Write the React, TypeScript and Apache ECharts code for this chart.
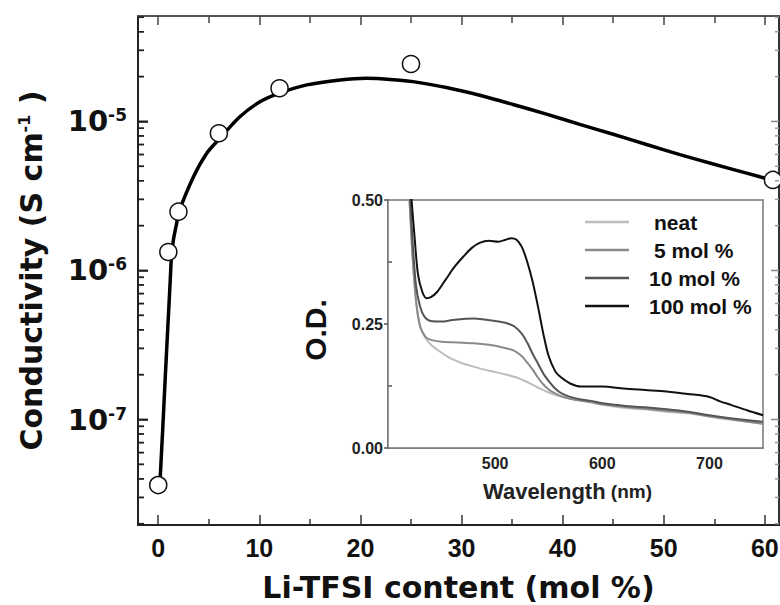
import React, { useEffect, useRef } from "react";
import * as echarts from "echarts";

// Main panel: measured conductivity points
const contentX = [0, 1, 2, 6, 12, 25, 60.8];
const conductivity = [3.63e-8, 1.33e-6, 2.48e-6, 8.33e-6, 1.67e-5, 2.43e-5, 4.05e-6];

// Main panel: fitted guide curve
const fitX = [0.2, 0.45, 0.69, 0.94, 1.19, 1.3, 1.5, 1.85, 2.0, 3.5, 4.8, 6.1, 8.1, 10.1, 12, 14.7, 18, 20.6, 23.9, 25.2, 28.5, 31.8, 35.1, 38.4, 41.7, 45, 48.3, 51.6, 54.9, 58.2, 60.8];
const fitY = [4.11e-8, 8.77e-8, 1.88e-7, 4.05e-7, 8.63e-7, 1.21e-6, 1.6e-6, 2.12e-6, 2.43e-6, 4.27e-6, 6.12e-6, 7.71e-6, 1.08e-5, 1.36e-5, 1.55e-5, 1.76e-5, 1.9e-5, 1.95e-5, 1.89e-5, 1.85e-5, 1.69e-5, 1.5e-5, 1.3e-5, 1.12e-5, 9.55e-6, 8.2e-6, 7.0e-6, 5.99e-6, 5.18e-6, 4.5e-6, 4.02e-6];

// Tick labels
const xMin = -2;
const xMax = 61.4;
const xMajorTicks = [0, 10, 20, 30, 40, 50, 60];
const xMinorTicks = [5, 15, 25, 35, 45, 55];
const yMajorTicks = [1e-7, 1e-6, 1e-5];
const yMin = 1.96e-8;
const yMax = 5.1e-5;
const yMinorTicks: number[] = [];
[-8, -7, -6, -5].forEach((e) => {
  for (let k = 2; k <= 9; k++) {
    const v = k * Math.pow(10, e);
    if (v >= yMin && v <= yMax) yMinorTicks.push(v);
  }
});

// Inset: absorption spectra (wavelength nm, O.D.)
const seriesNames = ["neat", "5 mol %", "10 mol %", "100 mol %"];
const neatWl = [418, 422, 426, 430, 435, 440, 448, 458, 468, 480, 490, 500, 510, 520, 530, 540, 550, 560, 570, 580, 590, 600, 620, 640, 660, 680, 700, 720, 750];
const neatOd = [0.6, 0.42, 0.3, 0.245, 0.222, 0.208, 0.195, 0.181, 0.172, 0.164, 0.158, 0.153, 0.148, 0.142, 0.133, 0.122, 0.112, 0.105, 0.1, 0.097, 0.092, 0.087, 0.081, 0.078, 0.073, 0.07, 0.063, 0.057, 0.049];
const mol5Wl = [418, 422, 426, 430, 435, 440, 450, 460, 470, 480, 490, 500, 510, 518, 525, 530, 535, 540, 545, 550, 556, 562, 570, 580, 590, 600, 620, 640, 660, 680, 700, 720, 750];
const mol5Od = [0.6, 0.42, 0.3, 0.245, 0.224, 0.218, 0.214, 0.213, 0.212, 0.211, 0.209, 0.206, 0.201, 0.196, 0.185, 0.172, 0.158, 0.142, 0.128, 0.118, 0.11, 0.104, 0.099, 0.095, 0.092, 0.088, 0.083, 0.079, 0.075, 0.071, 0.064, 0.058, 0.049];
const mol10Wl = [418, 422, 426, 430, 434, 440, 450, 460, 470, 480, 490, 500, 510, 518, 525, 530, 535, 540, 545, 550, 556, 562, 570, 580, 590, 600, 620, 640, 660, 680, 700, 720, 750];
const mol10Od = [0.6, 0.45, 0.33, 0.285, 0.265, 0.256, 0.255, 0.258, 0.26, 0.261, 0.259, 0.256, 0.252, 0.245, 0.23, 0.212, 0.19, 0.17, 0.15, 0.135, 0.12, 0.11, 0.103, 0.098, 0.095, 0.09, 0.085, 0.082, 0.078, 0.073, 0.066, 0.06, 0.053];
const mol100Wl = [418, 422, 425, 428, 432, 436, 440, 446, 454, 462, 470, 478, 486, 494, 503, 510, 515, 520, 525, 530, 535, 540, 545, 550, 556, 560, 570, 580, 600, 620, 640, 660, 680, 700, 710, 720, 735, 750];
const mol100Od = [0.62, 0.5, 0.42, 0.35, 0.315, 0.302, 0.304, 0.315, 0.34, 0.365, 0.385, 0.403, 0.414, 0.418, 0.416, 0.42, 0.423, 0.42, 0.405, 0.375, 0.335, 0.285, 0.23, 0.185, 0.155, 0.145, 0.13, 0.124, 0.124, 0.12, 0.117, 0.114, 0.109, 0.103, 0.094, 0.087, 0.076, 0.066];
const insetColors = ["#bdbdbd", "#8a8a8a", "#555555", "#111111"];
const insetXMin = 400;
const insetXMax = 750;
const insetXLabels = [500, 600, 700];
const insetXTicks = [450, 500, 550, 600, 650, 700];
const insetYLabels = [0, 0.25, 0.5];
const insetYMinor = [0.125, 0.375];

const ARIAL = "Liberation Sans, Arial, sans-serif";
const DEJAVU = "DejaVu Sans, sans-serif";

const zip = (xs: number[], ys: number[]) => xs.map((x, i) => [x, ys[i]]);

// horizontal tick marks drawn through the axes' own scales:
// [anchorX, y, startOffsetPx, endOffsetPx]
const tickSeries = (data: number[][], xIdx: number, yIdx: number, color: string, width: number) => ({
  type: "custom", xAxisIndex: xIdx, yAxisIndex: yIdx, clip: false, silent: true, z: 20,
  dimensions: ["x", "y", "a", "b"],
  encode: { x: 0, y: 1 },
  data,
  renderItem: (_p: any, api: any) => {
    const p = api.coord([api.value(0), api.value(1)]);
    return {
      type: "line",
      shape: { x1: p[0] + api.value(2), y1: p[1], x2: p[0] + api.value(3), y2: p[1] },
      style: { stroke: color, lineWidth: width },
      z2: 100,
    };
  },
});

export default function App() {
  const ref = useRef<HTMLDivElement>(null);

  useEffect(() => {
    if (!ref.current) return;
    const chart = echarts.init(ref.current, undefined, { renderer: "svg" });

    const gridBase = { outerBoundsMode: "none", containLabel: false };
    const mainX = { min: xMin, max: xMax, type: "value" as const, gridIndex: 0 };
    const noSplit = { splitLine: { show: false } };
    const line = (show: boolean, color: string, width: number) => ({
      show, onZero: false, lineStyle: { color, width },
    });
    const leftOffset = -20.2;

    const option: any = {
      animation: false,
      backgroundColor: "#ffffff",
      grid: [
        { left: 138, top: 16, right: 1, bottom: 80, ...gridBase, show: true, borderColor: "#333", borderWidth: 2 },
        { left: 388, top: 200, width: 375, height: 248, ...gridBase, show: true, borderColor: "#777", borderWidth: 1.5, backgroundColor: "#ffffff", z: 4 },
      ],
      xAxis: [
        {
          ...mainX, ...noSplit, position: "bottom",
          axisLine: line(true, "#222", 2),
          axisTick: { show: true, inside: true, length: 10, lineStyle: { color: "#333", width: 1.5 }, customValues: xMajorTicks },
          axisLabel: {
            show: true, customValues: xMajorTicks, margin: 10,
            fontFamily: ARIAL, fontWeight: "bold", fontSize: 25, color: "#111",
          },
          name: "Li-TFSI content (mol %)", nameLocation: "middle", nameGap: 62,
          nameTextStyle: { fontFamily: DEJAVU, fontWeight: "bold", fontSize: 30, color: "#111", verticalAlign: "middle", align: "center" },
        },
        {
          ...mainX, ...noSplit, position: "bottom",
          axisLine: line(false, "#222", 2),
          axisTick: { show: true, inside: true, length: 6, lineStyle: { color: "#333", width: 1.5 }, customValues: xMinorTicks },
          axisLabel: { show: false },
        },
        {
          ...mainX, ...noSplit, position: "top",
          axisLine: line(true, "#555", 2),
          axisTick: { show: true, inside: true, length: 9, lineStyle: { color: "#444", width: 1.5 }, customValues: xMajorTicks },
          axisLabel: { show: false },
        },
        {
          ...mainX, ...noSplit, position: "top",
          axisLine: line(false, "#555", 2),
          axisTick: { show: true, inside: true, length: 7, lineStyle: { color: "#444", width: 1.5 }, customValues: xMinorTicks },
          axisLabel: { show: false },
        },
        {
          type: "value", gridIndex: 1, min: insetXMin, max: insetXMax, ...noSplit, position: "bottom",
          axisLine: line(true, "#666", 1.5),
          axisTick: { show: true, inside: true, length: 4, lineStyle: { color: "#666", width: 1 }, customValues: insetXTicks },
          axisLabel: {
            show: true, customValues: insetXLabels, margin: 7,
            fontFamily: ARIAL, fontWeight: "bold", fontSize: 16, color: "#222",
          },
          name: "{a|Wavelength}{b| (nm)}", nameLocation: "middle", nameGap: 43,
          nameTextStyle: {
            verticalAlign: "middle", align: "center", padding: [0, 16, 0, 0],
            rich: {
              a: { fontFamily: ARIAL, fontWeight: "bold", fontSize: 22, color: "#222" },
              b: { fontFamily: ARIAL, fontWeight: "bold", fontSize: 19, color: "#222" },
            },
          },
        },
      ],
      yAxis: [
        {
          type: "log", logBase: 10, min: yMin, max: yMax, gridIndex: 0, ...noSplit, position: "left",
          axisLine: line(true, "#222", 2),
          axisTick: { show: true, inside: true, length: 10, lineStyle: { color: "#222", width: 1.5 }, customValues: yMajorTicks },
          axisLabel: {
            show: true, customValues: yMajorTicks, margin: 11,
            formatter: (v: number) => `{b|10}{s|${Math.round(Math.log10(v))}}`,
            rich: {
              b: { fontFamily: DEJAVU, fontWeight: "bold", fontSize: 29, lineHeight: 29, color: "#111", padding: [8, 0, 8, 0], verticalAlign: "middle" },
              s: { fontFamily: DEJAVU, fontWeight: "bold", fontSize: 17, lineHeight: 17, color: "#111", verticalAlign: "top" },
            },
          },
          name: "{t|Conductivity (S cm}{s|-1}{t| )}", nameLocation: "middle", nameGap: 100,
          nameTextStyle: {
            verticalAlign: "middle", align: "center",
            rich: {
              t: { fontFamily: DEJAVU, fontWeight: "bold", fontSize: 30, lineHeight: 30, color: "#111", padding: [10, 0, 10, 0], verticalAlign: "middle" },
              s: { fontFamily: DEJAVU, fontWeight: "bold", fontSize: 16, lineHeight: 16, color: "#111", verticalAlign: "top" },
            },
          },
        },
        {
          type: "value", gridIndex: 1, min: 0, max: 0.5, ...noSplit, position: "left",
          axisLine: line(true, "#666", 1.5),
          axisTick: { show: false },
          axisLabel: {
            show: true, customValues: insetYLabels, margin: 5,
            formatter: (v: number) => v.toFixed(2),
            fontFamily: ARIAL, fontWeight: "bold", fontSize: 16, color: "#222",
          },
          name: "O.D.", nameLocation: "middle", nameGap: 73,
          nameTextStyle: {
            fontFamily: ARIAL, fontWeight: "bold", fontSize: 30, color: "#111",
            verticalAlign: "middle", align: "center", padding: [0, 12, 0, 0],
          },
        },
      ],
      legend: {
        show: true, orient: "vertical", left: 585, top: 211, padding: 0,
        icon: "rect", itemWidth: 44, itemHeight: 2.5, itemGap: 6,
        textStyle: { fontFamily: ARIAL, fontWeight: "bold", fontSize: 21, lineHeight: 22, color: "#111", padding: [0, 0, 0, 15] },
        data: [
          { name: seriesNames[0], textStyle: { padding: [0, 0, 0, 20] } },
          { name: seriesNames[1], textStyle: { padding: [0, 0, 0, 20] } },
          { name: seriesNames[2] },
          { name: seriesNames[3] },
        ],
        z: 10,
      },
      series: [
        {
          name: "fit", type: "line", xAxisIndex: 0, yAxisIndex: 0,
          data: zip(fitX, fitY), symbol: "none", smooth: 0.3,
          lineStyle: { color: "#000", width: 3.5 }, z: 2,
        },
        {
          name: "data", type: "scatter", xAxisIndex: 0, yAxisIndex: 0,
          data: zip(contentX, conductivity), symbol: "circle", symbolSize: 17,
          itemStyle: { color: "#ffffff", borderColor: "#111", borderWidth: 1.5, opacity: 1 }, z: 3,
        },
        tickSeries(yMajorTicks.map((v) => [0, v, leftOffset, leftOffset + 10]), 0, 0, "#222", 1.5),
        tickSeries(yMinorTicks.map((v) => [0, v, leftOffset, leftOffset + 6]), 0, 0, "#222", 1.5),
        tickSeries(yMajorTicks.map((v) => [xMax, v, 0, -8]), 0, 0, "#888", 1.5),
        tickSeries(yMinorTicks.map((v) => [xMax, v, 0, -4]), 0, 0, "#999", 1.5),
        tickSeries(insetYLabels.map((v) => [insetXMin, v, 0, -4]), 4, 1, "#555", 1.5),
        tickSeries(insetYMinor.map((v) => [insetXMin, v, 0, 4]), 4, 1, "#555", 1.5),
        ...[
          [neatWl, neatOd],
          [mol5Wl, mol5Od],
          [mol10Wl, mol10Od],
          [mol100Wl, mol100Od],
        ].map(([wl, od], i) => ({
          name: seriesNames[i], type: "line", xAxisIndex: 4, yAxisIndex: 1,
          data: zip(wl, od), symbol: "none", showSymbol: false, smooth: 0.3, clip: true,
          color: insetColors[i],
          lineStyle: { color: insetColors[i], width: 2 },
          itemStyle: { color: insetColors[i] },
          z: 5,
        })),
      ],
    };

    chart.setOption(option);

    // Extra safety: left-frame log ticks placed via the library's own coordinate conversion
    try {
      const els: any[] = [];
      const addTicks = (vals: number[], len: number) => {
        vals.forEach((v) => {
          const p = chart.convertToPixel({ xAxisIndex: 0, yAxisIndex: 0 } as any, [xMin, v]) as any;
          if (p && isFinite(p[0]) && isFinite(p[1])) {
            els.push({
              type: "line", z: 100, silent: true,
              shape: { x1: p[0], y1: p[1], x2: p[0] + len, y2: p[1] },
              style: { stroke: "#222", lineWidth: 1.5 },
            });
          }
        });
      };
      addTicks(yMajorTicks, 10);
      addTicks(yMinorTicks, 6);
      if (els.length) chart.setOption({ graphic: { elements: els } });
    } catch (e) {
      // ignore
    }

    return () => chart.dispose();
  }, []);

  return (
    <div
      ref={ref}
      style={{ position: "absolute", left: 0, top: 0, width: 780, height: 605, background: "#fff" }}
    />
  );
}
